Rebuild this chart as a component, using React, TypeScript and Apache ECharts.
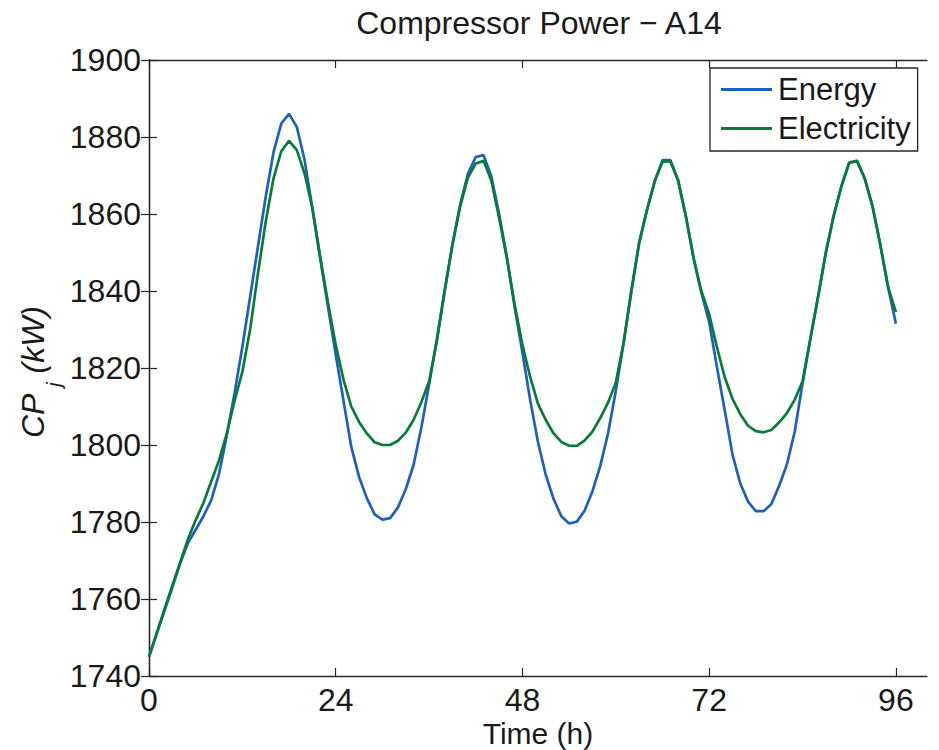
import React, { useEffect, useRef } from "react";
import * as echarts from "echarts";

const titleText = "Compressor Power \u2212 A14";
const xName = "Time (h)";
const xTicks = [0, 24, 48, 72, 96];
const seriesNames = ["Energy", "Electricity"];

// hourly values, hour 0..96
const energy = [
  1745, 1751, 1757, 1763, 1769.2, 1774.5, 1778, 1781.5, 1785.7, 1792.5,
  1802.5, 1813.5, 1825.5, 1838.5, 1851.5, 1864.5, 1876, 1883.5, 1886, 1882.6,
  1874, 1861.5, 1848.5, 1836, 1823.5, 1811.5, 1799.5, 1791.7, 1786.2, 1782,
  1780.6, 1781, 1783.8, 1788.5, 1794.8, 1804.5, 1815.7, 1827.5, 1840, 1852,
  1862.5, 1870.5, 1874.8, 1875.3, 1869.8, 1860, 1848.8, 1835.8, 1824, 1811.6,
  1800.7, 1792.2, 1786, 1781.5, 1779.6, 1780.1, 1783, 1788, 1794.5, 1803,
  1814, 1826.5, 1840, 1852.5, 1861, 1868.5, 1874, 1874, 1868.8, 1859.5,
  1848.5, 1839.5, 1832, 1820.2, 1809, 1797.5, 1790, 1785.3, 1782.8, 1782.8,
  1784.7, 1789.4, 1795, 1803.5, 1816, 1827.5, 1838.5, 1850, 1859.5, 1867.2,
  1873.3, 1873.8, 1869.2, 1862, 1852, 1841, 1831.5,
];

const electricity = [
  1745, 1751.2, 1757.4, 1763.5, 1769.5, 1775.5, 1780.5, 1785, 1790.5, 1796,
  1803, 1811.5, 1819, 1830, 1844.5, 1858, 1869.2, 1876.3, 1879, 1876.6,
  1870.5, 1861.5, 1849, 1837, 1826, 1817, 1810, 1806, 1803, 1800.7,
  1800, 1800, 1801.1, 1803.2, 1806.5, 1811.1, 1816.5, 1827, 1840, 1852,
  1862, 1869.5, 1873.1, 1873.8, 1868.7, 1859, 1848.5, 1836.5, 1826, 1817.6,
  1810.7, 1806.5, 1803, 1800.8, 1799.8, 1799.8, 1801.2, 1803.5, 1807, 1811,
  1816.2, 1826.5, 1840, 1852.5, 1861, 1868.5, 1873.5, 1873.7, 1868.8, 1859.5,
  1848.5, 1840, 1834, 1825.4, 1817.6, 1812, 1808, 1805, 1803.6, 1803.3,
  1803.9, 1805.9, 1808.3, 1811.8, 1816.5, 1827.5, 1838.5, 1850, 1859.5, 1867.2,
  1873.3, 1873.8, 1869.2, 1862, 1852, 1841, 1834.5,
];

const FONT = "'Liberation Sans', Arial, Helvetica, sans-serif";
const AXIS_COLOR = "#262626";
const TEXT_COLOR = "#1a1a1a";

export default function App() {
  const ref = useRef<HTMLDivElement>(null);

  useEffect(() => {
    if (!ref.current) return;
    const chart = echarts.init(ref.current, undefined, { renderer: "svg" });

    const axisLine = { show: true, lineStyle: { color: AXIS_COLOR, width: 1.3 } };
    const tick = { show: true, inside: true, length: 8, lineStyle: { color: AXIS_COLOR, width: 1.2 } };

    chart.setOption({
      animation: false,
      backgroundColor: "#ffffff",
      grid: {
        left: 149,
        right: 12,
        top: 60,
        bottom: 74,
        containLabel: false,
        outerBoundsMode: "none",
      },
      legend: {
        orient: "vertical",
        left: 710,
        top: 68,
        padding: [6, 7, 7, 11],
        itemGap: 8,
        itemWidth: 51,
        itemHeight: 3,
        icon: "rect",
        backgroundColor: "#ffffff",
        borderColor: AXIS_COLOR,
        borderWidth: 1.3,
        borderRadius: 0,
        textStyle: { fontFamily: FONT, fontSize: 31, color: TEXT_COLOR, padding: [0, 0, 0, 1] },
        data: seriesNames,
      },
      xAxis: [
        {
          type: "value",
          min: 0,
          max: 100,
          position: "bottom",
          axisLine,
          axisTick: { ...tick, customValues: xTicks },
          axisLabel: {
            customValues: xTicks,
            formatter: (v: number) => String(v),
            fontFamily: FONT,
            fontSize: 32,
            color: TEXT_COLOR,
            margin: 8,
          },
          splitLine: { show: false },
        },
        {
          type: "value",
          min: 0,
          max: 100,
          position: "top",
          axisLine,
          axisTick: { ...tick, customValues: xTicks },
          axisLabel: { show: false },
          splitLine: { show: false },
        },
      ],
      yAxis: [
        {
          type: "value",
          min: 1740,
          max: 1900,
          interval: 20,
          position: "left",
          axisLine,
          axisTick: tick,
          axisLabel: {
            formatter: (v: number) => String(v),
            fontFamily: FONT,
            fontSize: 32,
            color: TEXT_COLOR,
            margin: 8,
          },
          splitLine: { show: false },
        },
        {
          type: "value",
          min: 1740,
          max: 1900,
          interval: 20,
          position: "right",
          axisLine,
          axisTick: tick,
          axisLabel: { show: false },
          splitLine: { show: false },
        },
      ],
      graphic: [
        {
          type: "text",
          x: 539,
          y: 23,
          style: {
            text: titleText,
            fontFamily: FONT,
            fontSize: 32,
            fill: TEXT_COLOR,
            align: "center",
            verticalAlign: "middle",
          },
        },
        {
          type: "text",
          x: 538,
          y: 733,
          style: {
            text: xName,
            fontFamily: FONT,
            fontSize: 30,
            fill: TEXT_COLOR,
            align: "center",
            verticalAlign: "middle",
          },
        },
        {
          type: "group",
          x: 33,
          y: 372,
          rotation: Math.PI / 2,
          children: [
            {
              type: "text",
              x: -66,
              y: 0,
              style: { text: "CP", fontFamily: FONT, fontSize: 32, fontStyle: "italic", fill: TEXT_COLOR, align: "left", verticalAlign: "middle" },
            },
            {
              type: "text",
              x: -15,
              y: 20,
              style: { text: "j", fontFamily: FONT, fontSize: 21, fontStyle: "italic", fill: TEXT_COLOR, align: "left", verticalAlign: "middle" },
            },
            {
              type: "text",
              x: 66,
              y: 0,
              style: { text: "(kW)", fontFamily: FONT, fontSize: 32, fontStyle: "italic", fill: TEXT_COLOR, align: "right", verticalAlign: "middle" },
            },
          ],
        },
      ],
      series: [
        {
          name: seriesNames[0],
          type: "line",
          data: energy.map((v, i) => [i, v]),
          showSymbol: false,
          symbol: "none",
          lineStyle: { color: "#1f5fbd", width: 2.7 },
          itemStyle: { color: "#1f5fbd" },
          z: 2,
        },
        {
          name: seriesNames[1],
          type: "line",
          data: electricity.map((v, i) => [i, v]),
          showSymbol: false,
          symbol: "none",
          lineStyle: { color: "#067c3b", width: 2.7 },
          itemStyle: { color: "#067c3b" },
          z: 3,
        },
      ],
    });

    return () => chart.dispose();
  }, []);

  return (
    <div
      ref={ref}
      style={{ position: "fixed", left: 0, top: 0, width: 939, height: 750, background: "#fff" }}
    />
  );
}
